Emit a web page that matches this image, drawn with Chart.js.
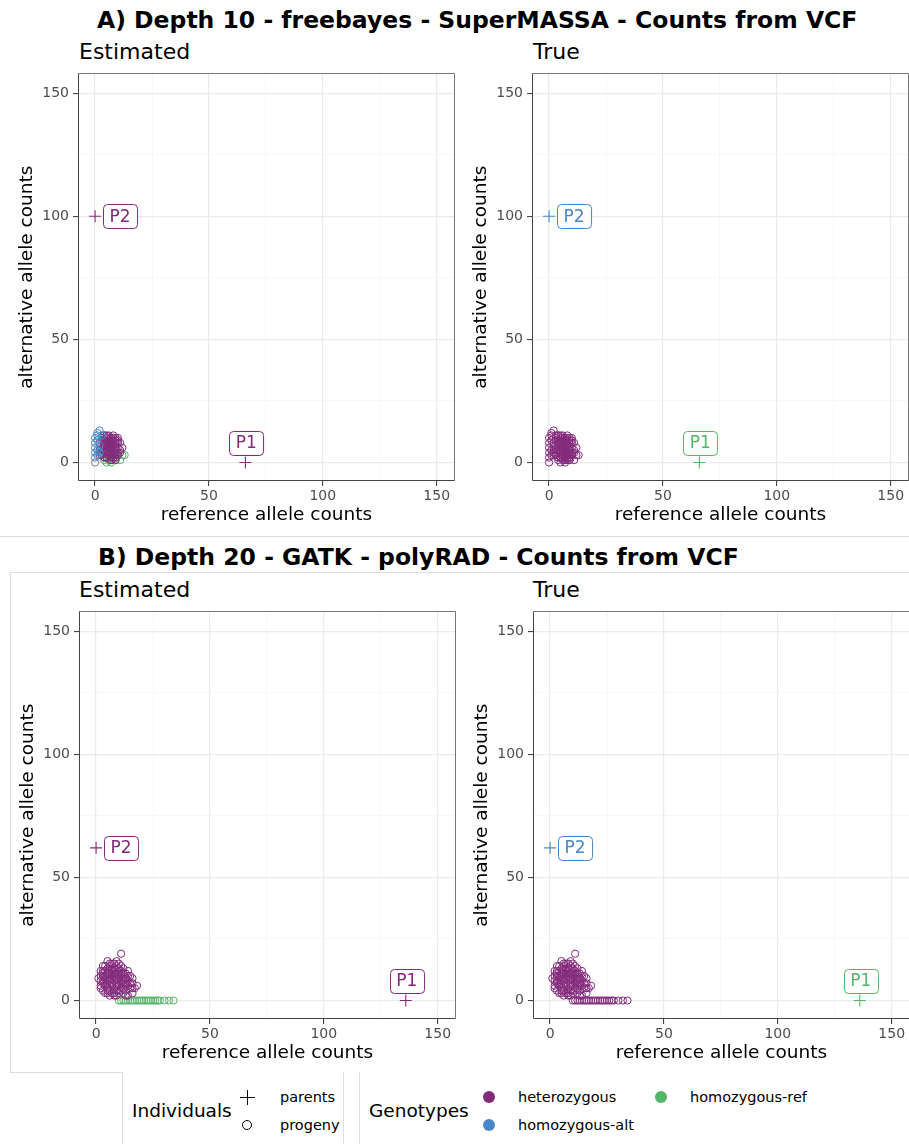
<!DOCTYPE html>
<html>
<head>
<meta charset="utf-8">
<script src="https://cdn.jsdelivr.net/npm/chart.js@4.4.1/dist/chart.umd.min.js"></script>
<style>
body { margin: 0; background: #fff; font-family: "DejaVu Sans", sans-serif; }
#wrap { position: relative; width: 909px; height: 1144px; overflow: hidden; background: #fff; }
canvas { position: absolute; }
.t { position: absolute; white-space: nowrap; line-height: 1; color: #000; }
.title { font-weight: bold; font-size: 23.5px; }
.sub { font-size: 22px; }
.lg-title { font-size: 18.5px; }
.lg-item { font-size: 14.5px; }
.ln { position: absolute; background: #dedede; }
.dot { position: absolute; width: 12px; height: 12px; border-radius: 50%; }
.ring { position: absolute; width: 8px; height: 8px; border: 1.2px solid #000; border-radius: 50%; }
.plus { position: absolute; width: 15px; height: 15px; }
.plus:before, .plus:after { content: ""; position: absolute; background: #000; }
.plus:before { left: 7px; top: 0; width: 1.2px; height: 15px; }
.plus:after { top: 7px; left: 0; height: 1.2px; width: 15px; }
</style>
</head>
<body>
<div id="wrap">
  <div class="t title" style="left:97px;top:9px">A) Depth 10 - freebayes - SuperMASSA - Counts from VCF</div>
  <div class="t sub" style="left:79px;top:41px">Estimated</div>
  <div class="t sub" style="left:533px;top:41px">True</div>
  <div class="ln" style="left:0;top:536px;width:909px;height:1px"></div>

  <div class="ln" style="left:10px;top:572px;width:1px;height:500px"></div>
  <div class="ln" style="left:10px;top:572px;width:899px;height:1px"></div>
  <div class="ln" style="left:10px;top:1072px;width:112px;height:1px"></div>
  <div class="t title" style="left:98px;top:546px">B) Depth 20 - GATK - polyRAD - Counts from VCF</div>
  <div class="t sub" style="left:79px;top:579px">Estimated</div>
  <div class="t sub" style="left:533px;top:579px">True</div>

  <canvas id="aEst" width="462" height="470" style="left:0;top:61px"></canvas>
  <canvas id="aTrue" width="462" height="470" style="left:454px;top:61px"></canvas>
  <canvas id="bEst" width="462" height="470" style="left:1px;top:599px"></canvas>
  <canvas id="bTrue" width="462" height="470" style="left:455px;top:599px"></canvas>

  <!-- legend -->
  <div class="ln" style="left:122px;top:1072px;width:1px;height:72px"></div>
  <div class="ln" style="left:343px;top:1072px;width:1px;height:72px"></div>
  <div class="ln" style="left:359px;top:1072px;width:1px;height:72px"></div>
  <div class="t lg-title" style="left:132px;top:1102px">Individuals</div>
  <div class="plus" style="left:240px;top:1090px"></div>
  <div class="ring" style="left:242px;top:1120px"></div>
  <div class="t lg-item" style="left:280px;top:1090px">parents</div>
  <div class="t lg-item" style="left:280px;top:1118px">progeny</div>
  <div class="t lg-title" style="left:369px;top:1102px">Genotypes</div>
  <div id="lgHet" class="dot" style="left:483px;top:1091px"></div>
  <div id="lgAlt" class="dot" style="left:483px;top:1119px"></div>
  <div id="lgRef" class="dot" style="left:655px;top:1091px"></div>
  <div class="t lg-item" style="left:518px;top:1090px">heterozygous</div>
  <div class="t lg-item" style="left:518px;top:1118px">homozygous-alt</div>
  <div class="t lg-item" style="left:690px;top:1090px">homozygous-ref</div>
</div>

<script>
// genotype colours
const colHet = "#832a7b";
const colAlt = "#4a86c8";
const colRef = "#55b467";
const colNA = "#7f7f7f";

// axis ticks (both axes, all panels)
const tickValues = [0, 25, 50, 75, 100, 125, 150];
const axisMin = -7.5, axisMax = 158;

// parents
const parentNames = ["P1", "P2"];
const parentsA_ref = [66, 0];
const parentsA_alt = [0, 100];
const parentsB_ref = [136, 0];
const parentsB_alt = [0, 62];
const parentsEst_geno = ["het", "het"];
const parentsTrue_geno = ["ref", "alt"];

// depth 10 progeny, grouped by estimated genotype (true genotype: all heterozygous)
const a_het_ref = [2,3,3,4,4,4,5,5,5,5,6,6,6,6,6,7,7,7,7,7,8,8,8,8,9,9,9,9,10,10,10,11,11,12,3,4,5,6,7,8,9,2,5,6,7,8,4,3,10,6,
                   3,4,5,6,7,8,9,10,4,5,6,7,8,9,3,5,7,9,11,6,8,4,10,2,7,5,9,6,8,3];
const a_het_alt = [8,3,10,5,7,11,2,4,6,9,3,5,7,8,11,2,4,6,9,10,3,5,7,11,4,6,8,10,3,6,9,5,8,6,6,9,8,10,7,9,2,5,11,4,1,8,2,5,10,6,
                   3,8,7,6,5,4,3,8,5,8,9,3,7,9,9,2,8,5,4,7,10,11,4,3,1,10,1,3,2,4];
const a_homref_ref = [4,5,6,7,7,8,9,9,10,11,12,13,6,8];
const a_homref_alt = [1,0,1,0,2,1,2,1,3,1,3,3,2,3];
const a_homalt_ref = [0,0,0,0,1,1,1,1,2,2,0,3,1,2];
const a_homalt_alt = [2,4,6,8,3,5,9,12,7,13,10,11,11,4];
const a_na_ref = [0];
const a_na_alt = [0];

// depth 20 progeny: main cluster (heterozygous in both) and the zero-alt row
const b_clu_ref = [1,2,2,2,3,3,3,3,4,4,4,4,5,5,5,5,5,6,6,6,6,7,7,7,7,7,8,8,8,8,9,9,9,9,9,10,10,10,10,11,11,11,11,11,12,12,12,13,13,13,14,14,14,15,15,16,16,16,17,18,6,8,12,3,5,7,10,13,
                   2,3,4,5,6,7,8,9,10,11,12,13,14,4,5,6,7,8,9,10,11,12,3,5,7,9,11,13,15,6,8,10,12,4,6,8,10,2,14,16];
const b_clu_alt = [9,6,10,12,4,8,11,14,3,6,9,12,5,7,10,13,16,4,8,11,14,3,6,9,12,15,5,8,10,13,2,4,7,11,14,3,6,9,12,5,8,10,14,19,3,7,11,4,6,9,2,8,12,5,10,3,7,9,5,6,2,3,13,7,3,11,15,2,
                   8,10,7,11,9,13,12,6,10,7,9,11,6,14,8,12,7,15,9,13,11,8,12,4,10,16,12,7,7,6,11,4,5,10,15,2,8,5,10,5];
const b_row_ref = [10,11,12,13,14,15,16,17,18,19,20,21,22,23,24,25,26,27,28,30,32,34];
const b_row_alt = [0,0,0,0,0,0,0,0,0,0,0,0,0,0,0,0,0,0,0,0,0,0];

document.getElementById("lgHet").style.background = colHet;
document.getElementById("lgAlt").style.background = colAlt;
document.getElementById("lgRef").style.background = colRef;

const genoColor = { het: colHet, alt: colAlt, ref: colRef };

function pts(xs, ys) {
    return xs.map((x, i) => ({ x: x, y: ys[i] }));
}

// panel border like ggplot theme_bw
const frame = {
    id: "frame",
    afterDraw(chart) {
        const { ctx, chartArea: a } = chart;
        ctx.save();
        ctx.lineWidth = 1;
        ctx.strokeStyle = "#777";
        ctx.beginPath();
        ctx.moveTo(Math.round(a.left) + 0.5, Math.round(a.top) + 0.5);
        ctx.lineTo(Math.round(a.right) - 0.5, Math.round(a.top) + 0.5);
        ctx.lineTo(Math.round(a.right) - 0.5, Math.round(a.bottom) - 0.5);
        ctx.stroke();
        ctx.strokeStyle = "#444";
        ctx.beginPath();
        ctx.moveTo(Math.round(a.left) + 0.5, Math.round(a.top) + 0.5);
        ctx.lineTo(Math.round(a.left) + 0.5, Math.round(a.bottom) - 0.5);
        ctx.lineTo(Math.round(a.right) - 0.5, Math.round(a.bottom) - 0.5);
        ctx.stroke();
        ctx.restore();
    }
};

// boxed labels for the parents (geom_label)
const boxLabels = {
    id: "boxLabels",
    afterDatasetsDraw(chart, args, opts) {
        const { ctx, scales } = chart;
        ctx.save();
        ctx.font = "17px 'DejaVu Sans'";
        ctx.textAlign = "center";
        ctx.textBaseline = "middle";
        opts.items.forEach(it => {
            const px = scales.x.getPixelForValue(it.x) + it.dx;
            const py = scales.y.getPixelForValue(it.y) + it.dy;
            const w = ctx.measureText(it.text).width + 13, h = 24;
            ctx.beginPath();
            ctx.roundRect(Math.round(px - w / 2) + 0.5, Math.round(py - h / 2) + 0.5, w, h, 4);
            ctx.fillStyle = "#fff";
            ctx.fill();
            ctx.lineWidth = 1;
            ctx.strokeStyle = it.color;
            ctx.stroke();
            ctx.fillStyle = it.color;
            ctx.fillText(it.text, px, py + 1);
        });
        ctx.restore();
    }
};

function axis(titleText, isY) {
    return {
        type: "linear",
        min: axisMin,
        max: axisMax,
        afterBuildTicks: s => { s.ticks = tickValues.map(v => ({ value: v })); },
        afterFit: s => { if (isY) s.width = 78; else s.height = 50; },
        grid: {
            color: c => (c.tick && c.tick.value % 50 === 0) ? "#ebebeb" : "#f3f3f3",
            lineWidth: c => (c.tick && c.tick.value % 50 === 0) ? 1.2 : 0.7,
            tickColor: c => (c.tick && c.tick.value % 50 === 0) ? "#333" : "rgba(0,0,0,0)",
            tickLength: 5,
            tickWidth: 1
        },
        border: { display: false },
        ticks: {
            autoSkip: false,
            maxRotation: 0,
            padding: isY ? 4 : 2,
            color: "#4d4d4d",
            font: { family: "DejaVu Sans", size: 14 },
            callback: v => (v % 50 === 0 ? String(v) : "")
        },
        title: {
            display: true,
            text: titleText,
            color: "#000",
            font: { family: "DejaVu Sans", size: 18.5 },
            padding: isY ? { top: 16 } : { bottom: 5 }
        }
    };
}

function makePanel(id, groups, pRef, pAlt, pGeno) {
    const datasets = groups.map(g => ({
        data: pts(g.ref, g.alt),
        pointStyle: "circle",
        pointRadius: 3.6,
        pointBorderWidth: 1,
        pointBackgroundColor: "rgba(0,0,0,0)",
        pointBorderColor: g.color
    }));
    datasets.push({
        data: pts(pRef, pAlt),
        pointStyle: "cross",
        pointRadius: 6,
        pointBorderWidth: 1.1,
        pointBorderColor: pGeno.map(g => genoColor[g])
    });
    const items = parentNames.map((n, i) => {
        // P2 sits on the y axis: label pushed right; P1 on the x axis: label pushed up
        const right = pRef[i] === 0;
        return {
            text: n, x: pRef[i], y: pAlt[i],
            dx: right ? 25 : 1, dy: right ? 0 : -20,
            color: genoColor[pGeno[i]]
        };
    });
    new Chart(document.getElementById(id), {
        type: "scatter",
        data: { datasets: datasets },
        options: {
            responsive: false,
            animation: false,
            devicePixelRatio: 1,
            layout: { padding: { left: 0, top: 5, right: 5, bottom: 0 } },
            plugins: {
                legend: { display: false },
                tooltip: { enabled: false },
                boxLabels: { items: items }
            },
            scales: {
                x: axis("reference allele counts", false),
                y: axis("alternative allele counts", true)
            }
        },
        plugins: [frame, boxLabels]
    });
}

makePanel("aEst", [
    { ref: a_na_ref, alt: a_na_alt, color: colNA },
    { ref: a_homalt_ref, alt: a_homalt_alt, color: colAlt },
    { ref: a_het_ref, alt: a_het_alt, color: colHet },
    { ref: a_homref_ref, alt: a_homref_alt, color: colRef }
], parentsA_ref, parentsA_alt, parentsEst_geno);

makePanel("aTrue", [
    { ref: a_na_ref.concat(a_homalt_ref, a_het_ref, a_homref_ref),
      alt: a_na_alt.concat(a_homalt_alt, a_het_alt, a_homref_alt), color: colHet }
], parentsA_ref, parentsA_alt, parentsTrue_geno);

makePanel("bEst", [
    { ref: b_clu_ref, alt: b_clu_alt, color: colHet },
    { ref: b_row_ref, alt: b_row_alt, color: colRef }
], parentsB_ref, parentsB_alt, parentsEst_geno);

makePanel("bTrue", [
    { ref: b_clu_ref.concat(b_row_ref), alt: b_clu_alt.concat(b_row_alt), color: colHet }
], parentsB_ref, parentsB_alt, parentsTrue_geno);
</script>
</body>
</html>
